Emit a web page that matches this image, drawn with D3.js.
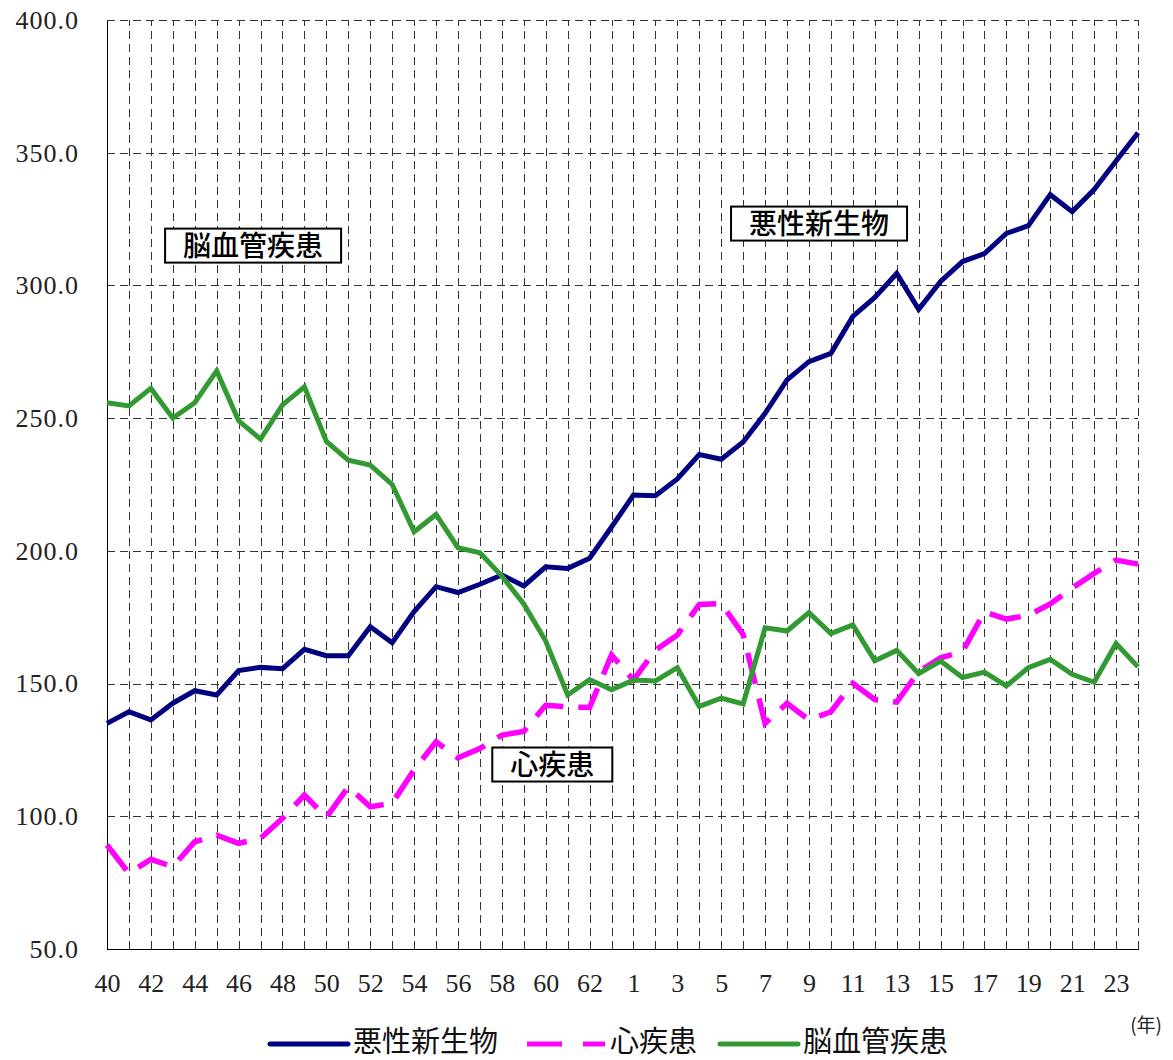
<!DOCTYPE html>
<html lang="ja">
<head>
<meta charset="utf-8">
<script src="https://d3js.org/d3.v7.min.js"></script>
<style>
  body { margin: 0; background: #fff; }
  .grid line { stroke: #333; stroke-width: 1; stroke-dasharray: 8,5; shape-rendering: crispEdges; }
  .grid path { display: none; }
  .axis path { stroke: #000; stroke-width: 1.5; shape-rendering: crispEdges; }
  .axis line { display: none; }
  .axis text { font-family: "Liberation Serif", serif; font-size: 26px; fill: #222; }
  .axis.yaxis text { letter-spacing: 1px; }
  .legend text { font-family: "Noto Sans CJK JP", sans-serif; font-size: 29px; fill: #111; }
  .tag text { font-family: "Noto Sans CJK JP", sans-serif; font-size: 28px; font-weight: 500; fill: #000; }
</style>
</head>
<body>
<svg id="chart" width="1173" height="1060"></svg>
<script>
// 年 (昭和40〜63, 平成1〜24)
var years = ["40","41","42","43","44","45","46","47","48","49","50","51","52","53","54","55","56","57","58","59","60","61","62","63",
             "1","2","3","4","5","6","7","8","9","10","11","12","13","14","15","16","17","18","19","20","21","22","23","24"];

var cancer = [135.0,139.4,136.3,142.6,147.3,145.7,154.9,156.1,155.6,162.9,160.5,160.5,171.4,165.4,177.1,186.5,184.3,187.4,190.9,186.8,194.0,193.4,197.2,209.0,
              221.0,220.8,227.1,236.3,234.5,241.0,251.8,264.4,271.3,274.4,288.3,295.5,304.5,291.0,301.5,309.0,312.0,319.6,322.5,334.2,327.8,336.1,346.9,357.5];

var heart = [89.2,78.5,83.8,81.0,90.4,92.9,89.8,91.7,99.2,108.0,99.6,111.1,103.6,104.9,117.5,128.1,122.0,125.5,130.6,132.0,141.8,141.2,141.0,160.8,
             151.3,162.6,168.3,179.8,180.2,168.5,135.0,142.6,136.3,139.4,150.1,144.0,143.0,154.5,159.7,162.0,177.0,174.3,175.7,180.0,186.0,191.5,196.5,195.0];

var cerebro = [255.8,254.6,261.2,250.0,255.8,267.8,249.0,242.1,255.0,261.8,241.2,234.2,232.3,225.0,207.2,213.7,201.2,199.3,190.5,180.0,166.0,145.7,151.5,147.7,
               151.3,151.0,156.0,141.4,144.5,142.3,171.0,169.8,176.7,168.8,172.1,158.6,162.5,153.8,158.5,152.3,154.3,149.1,156.0,159.1,153.5,150.5,165.1,156.3];

var yTicks = [50, 100, 150, 200, 250, 300, 350, 400];

var seriesNames = ["悪性新生物", "心疾患", "脳血管疾患"];
var seriesColors = ["#000080", "#ff00ff", "#339933"];
var seriesDash = [null, "32,15", null];

var margin = {top: 20, right: 35, bottom: 111, left: 107};
var svg = d3.select("#chart");
var W = +svg.attr("width"), H = +svg.attr("height");
var width = W - margin.left - margin.right;
var height = H - margin.top - margin.bottom;

var x = d3.scaleLinear().domain([0, years.length - 1]).range([margin.left, margin.left + width]);
var y = d3.scaleLinear().domain([50, 400]).range([margin.top + height, margin.top]);

// grid
svg.append("g").attr("class", "grid")
  .attr("transform", "translate(0," + (margin.top + height) + ")")
  .call(d3.axisBottom(x).tickValues(d3.range(1, years.length)).tickSize(-height).tickFormat(""));

svg.append("g").attr("class", "grid")
  .attr("transform", "translate(" + margin.left + ",0)")
  .call(d3.axisLeft(y).tickValues(yTicks.slice(1)).tickSize(-width).tickFormat(""));

// axes
svg.append("g").attr("class", "axis")
  .attr("transform", "translate(0," + (margin.top + height) + ")")
  .call(d3.axisBottom(x).tickValues(d3.range(0, years.length, 2)).tickSizeOuter(0).tickSize(0).tickPadding(25)
    .tickFormat(function(i) { return years[i]; }));

svg.append("g").attr("class", "axis yaxis")
  .attr("transform", "translate(" + margin.left + ",0)")
  .call(d3.axisLeft(y).tickValues(yTicks).tickSizeOuter(0).tickSize(0).tickPadding(28)
    .tickFormat(d3.format(".1f")));

// lines
var line = d3.line().x(function(d, i) { return x(i); }).y(function(d) { return y(d); });
[cancer, heart, cerebro].forEach(function(data, k) {
  svg.append("path")
    .datum(data)
    .attr("fill", "none")
    .attr("stroke", seriesColors[k])
    .attr("stroke-width", k == 1 ? 5.5 : 5)
    .attr("stroke-linejoin", "miter")
    .attr("stroke-dasharray", seriesDash[k])
    .attr("d", line);
});

// boxed labels (placed in data coordinates)
var tags = [
  {name: "脳血管疾患", i: 6.66, v: 315.0},
  {name: "悪性新生物", i: 32.46, v: 323.3},
  {name: "心疾患", i: 20.3, v: 119.5}
];
tags.forEach(function(t) {
  var g = svg.append("g").attr("class", "tag")
    .attr("transform", "translate(" + x(t.i) + "," + y(t.v) + ")");
  var rect = g.append("rect").attr("fill", "#fff").attr("stroke", "#000").attr("stroke-width", 2);
  var txt = g.append("text").attr("text-anchor", "middle").attr("dy", "0.36em").text(t.name);
  var bb = txt.node().getBBox();
  var bw = bb.width + 36, bh = 34;
  rect.attr("x", -bw / 2).attr("y", -bh / 2).attr("width", bw).attr("height", bh);
});

// legend
var legend = svg.append("g").attr("class", "legend");
var lx = [270, 527, 720];
seriesNames.forEach(function(name, k) {
  legend.append("line")
    .attr("x1", lx[k]).attr("x2", lx[k] + 78)
    .attr("y1", 1044).attr("y2", 1044)
    .attr("stroke", seriesColors[k])
    .attr("stroke-width", 5)
    .attr("stroke-linecap", k == 1 ? "butt" : "round")
    .attr("stroke-dasharray", k == 1 ? "35,21" : null);
  legend.append("text")
    .attr("x", lx[k] + 83).attr("y", 1042).attr("dy", "0.36em")
    .text(name);
});

svg.append("text")
  .attr("x", 1162).attr("y", 1025).attr("dy", "0.36em")
  .attr("text-anchor", "end")
  .style("font-family", "'Noto Sans CJK JP', sans-serif")
  .style("font-size", "19px")
  .style("fill", "#222")
  .text("(年)");
</script>
</body>
</html>
